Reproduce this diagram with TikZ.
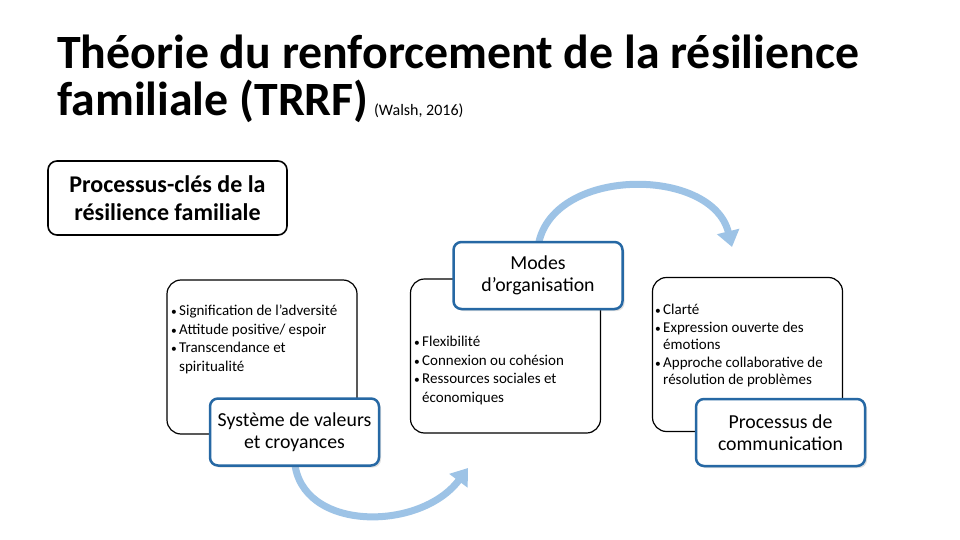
\documentclass[tikz,border=0pt]{standalone}
\usepackage{fontspec}
\setmainfont{Carlito}
\usepackage{xcolor}
\usepackage{tikz}
\usetikzlibrary{positioning}
\usetikzlibrary{arrows.meta}
\usetikzlibrary{shadows}
\usetikzlibrary{backgrounds}

\definecolor{boxblue}{RGB}{38,104,164}
\definecolor{arrowblue}{RGB}{157,195,230}

\newcommand{\blt}{\makebox[8pt][l]{\raisebox{0pt}{\fontsize{11.5}{11.5}\selectfont\textbullet}}}
\newcommand{\ind}{\hspace*{8pt}}

\begin{document}
\begin{tikzpicture}[x=1pt,y=-1pt,
  title/.style={anchor=base west, inner sep=0pt, font=\bfseries\fontsize{47.8}{50}\selectfont},
  keybox/.style={draw, rounded corners=9pt, line width=1.6pt, align=center, font=\bfseries\fontsize{24}{28}\selectfont, minimum width=239pt, minimum height=74pt},
  listbox/.style={draw, fill=white, rounded corners=14pt, line width=1.2pt, minimum width=190pt, minimum height=154pt},
  listtext/.style={anchor=north west, align=left, inner sep=0pt, font=\fontsize{15}{18.5}\selectfont},
  procbox/.style={draw=boxblue, fill=white, rounded corners=8pt, line width=2.5pt, align=center, font=\fontsize{19.8}{21.5}\selectfont, minimum width=169pt, minimum height=67pt, drop shadow={opacity=0.25, shadow xshift=2pt, shadow yshift=-2pt}},
  cycle/.style={arrowblue, line width=7pt, -{Triangle[length=16pt,width=22pt]}}
]

\useasboundingbox (0,0) rectangle (960,540);

% Title
\node[title] (titlea) at (57,69) {Théorie du renforcement de la résilience};
\node[title] (titleb) at (57,116) {familiale (TRRF)};
\node[inner sep=0pt, font=\fontsize{16}{18}\selectfont, right=5pt of titleb.base east, anchor=base west] (source) {(Walsh, 2016)};

\node[keybox] (key) at (167.5,198) {Processus-clés de la\\résilience familiale};

% Draw the bullet boxes
\node[listbox] (listsys) at (262,357) {};
\node[listbox] (listmod) at (505.5,356) {};
\node[listbox] (listcom) at (747.5,354.5) {};

\node[listtext] (textsys) at (171,305) {\blt Signification de l’adversité\\ \blt Attitude positive/ espoir\\ \blt Transcendance et\\ \ind spiritualité};
\node[listtext] (textmod) at (414,336) {\blt Flexibilité\\ \blt Connexion ou cohésion\\ \blt Ressources sociales et\\ \ind économiques};
\node[listtext, font=\fontsize{15}{17.5}\selectfont] (textcom) at (655,304) {\blt Clarté\\ \blt Expression ouverte des\\ \ind émotions\\ \blt Approche collaborative de\\ \ind résolution de problèmes};

% Draw the process boxes
\node[procbox] (sys) at (294.5,432) {Système de valeurs\\et croyances};
\node[procbox] (modes) at (538,275.5) {Modes\\d’organisation};
\node[procbox] (com) at (780.5,432.5) {Processus de\\communication};

\coordinate (bottomtip) at (468,468);
\coordinate (toptip) at (732,247);

% Draw the arrows
\begin{pgfonlayer}{background}
  \fill[white] (0,0) rectangle (960,540);
  \draw[cycle] ([yshift=6pt]sys.south) .. controls (300,532) and (420,532) .. (bottomtip);
  \draw[cycle] ([yshift=-6pt]modes.north) .. controls (550,166) and (712,166) .. (toptip);
\end{pgfonlayer}

\end{tikzpicture}
\end{document}
